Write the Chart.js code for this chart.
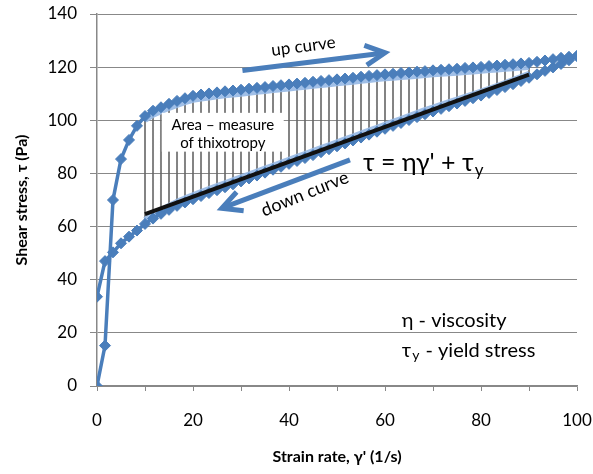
<!DOCTYPE html>
<html><head><meta charset="utf-8">
<script src="https://cdn.jsdelivr.net/npm/chart.js@4/dist/chart.umd.min.js"></script>
<style>html,body{margin:0;padding:0;background:#fff}</style>
</head><body>
<canvas id="c" width="593" height="474"></canvas>
<script>
// ---- data ----
const strainRate = [0,1.67,3.33,5,6.67,8.33,10,11.67,13.33,15,16.67,18.33,20,21.67,23.33,25,26.67,28.33,30,31.67,33.33,35,36.67,38.33,40,41.67,43.33,45,46.67,48.33,50,51.67,53.33,55,56.67,58.33,60,61.67,63.33,65,66.67,68.33,70,71.67,73.33,75,76.67,78.33,80,81.67,83.33,85,86.67,88.33,90,91.67,93.33,95,96.67,98.33,100];
const upCurve = [0,15.2,70.0,85.4,92.6,97.9,101.6,103.6,104.9,106.2,107.3,108.3,109.2,109.7,110.1,110.5,110.9,111.2,111.5,111.9,112.2,112.5,112.9,113.2,113.5,113.8,114.1,114.5,114.8,115.1,115.4,115.7,116.0,116.4,116.7,117.0,117.3,117.5,117.8,118.0,118.3,118.5,118.8,119.0,119.2,119.4,119.7,119.9,120.1,120.4,120.6,120.9,121.1,121.4,121.6,122.0,122.5,123.0,123.5,123.9,124.2];
const downCurve = [33.6,47.0,50.3,53.7,56.2,58.5,61.0,63.0,64.8,66.3,67.8,69.1,70.3,71.5,72.6,73.7,74.8,75.9,77.0,78.1,79.2,80.3,81.4,82.5,83.6,84.7,85.8,86.9,88.0,89.1,90.2,91.3,92.4,93.5,94.6,95.7,96.8,97.9,99.0,100.1,101.2,102.3,103.3,104.3,105.3,106.3,107.3,108.3,109.3,110.3,111.4,112.5,113.6,114.8,116.0,117.3,118.6,119.9,121.2,122.6,124.2];
const fitX = [10, 90];
const fitY = [64.7, 117.2];
const hatchRange = [10, 90];
const xTickStep = 10, xLabelStep = 20;
const yTickStep = 20;
const xTitle = "Strain rate, γ' (1/s)";
const yTitle = "Shear stress, τ (Pa)";

// ---- build datasets ----
const BLUE = '#4A7EBB';
const F = 'Lato, "Noto Sans", "DejaVu Sans", sans-serif';
const upPts = strainRate.map((x, i) => ({x, y: upCurve[i]}));
const downPts = strainRate.map((x, i) => ({x, y: downCurve[i]})).reverse();
const fitPts = fitX.map((x, i) => ({x, y: fitY[i]}));
const hatchPts = [];
strainRate.forEach((x, i) => {
  if (x < hatchRange[0] || x > hatchRange[1]) return;
  hatchPts.push({x, y: upCurve[i]}, {x, y: downCurve[i]}, {x, y: null});
});

const bandPlugin = {
  id: 'band',
  afterDatasetDraw(chart, args) {
    if (chart.data.datasets[args.index].label !== 'hatch') return;
    const xs = chart.scales.x, ys = chart.scales.y, c = chart.ctx;
    c.save();
    c.lineWidth = 6; c.strokeStyle = 'rgba(150,184,228,0.9)'; c.lineJoin = 'round';
    [[upCurve, 4], [downCurve, -4]].forEach(([arr, off]) => {
      c.beginPath(); let first = true;
      strainRate.forEach((x, i) => {
        if (x < hatchRange[0] || x > hatchRange[1]) return;
        const px = xs.getPixelForValue(x), py = ys.getPixelForValue(arr[i]) + off;
        if (first) c.moveTo(px, py); else c.lineTo(px, py);
        first = false;
      });
      c.stroke();
    });
    c.restore();
  }
};

function arrow(c, x1, y1, x2, y2) {
  const a = Math.atan2(y2 - y1, x2 - x1), L = 22, h = 27 * Math.PI / 180;
  c.beginPath(); c.moveTo(x1, y1); c.lineTo(x2 - 3 * Math.cos(a), y2 - 3 * Math.sin(a)); c.stroke();
  c.beginPath();
  c.moveTo(x2 - L * Math.cos(a - h), y2 - L * Math.sin(a - h));
  c.lineTo(x2, y2);
  c.lineTo(x2 - L * Math.cos(a + h), y2 - L * Math.sin(a + h));
  c.stroke();
}

const notesPlugin = {
  id: 'notes',
  afterDatasetsDraw(chart) {
    const xs = chart.scales.x, ys = chart.scales.y, c = chart.ctx;
    const X = v => xs.getPixelForValue(v), Y = v => ys.getPixelForValue(v);
    c.save();
    // white box with label
    const bx1 = X(13.5), bx2 = X(38.9), by1 = Y(102.8), by2 = Y(88.2);
    c.fillStyle = '#fff'; c.fillRect(bx1, by1, bx2 - bx1, by2 - by1);
    c.fillStyle = '#000'; c.textAlign = 'center'; c.textBaseline = 'middle';
    c.font = '15px ' + F;
    c.fillText('Area – measure', (bx1 + bx2) / 2, Y(98.1));
    c.fillText('of thixotropy', (bx1 + bx2) / 2, Y(91.3));
    // arrows
    c.strokeStyle = BLUE; c.lineWidth = 5; c.lineJoin = 'miter'; c.lineCap = 'butt';
    arrow(c, X(30.3), Y(118.7), X(60.0), Y(125.4));
    arrow(c, X(52.7), Y(85.1), X(26.0), Y(66.9));
    // rotated labels
    c.fillStyle = '#000';
    c.save(); c.translate(X(43.0), Y(127.8)); c.rotate(-7.5 * Math.PI / 180);
    c.font = '17px ' + F; c.fillText('up curve', 0, 0); c.restore();
    c.save(); c.translate(X(43.3), Y(72.3)); c.rotate(-22 * Math.PI / 180);
    c.font = '18px ' + F; c.fillText('down curve', 0, 0); c.restore();
    // equation
    c.textAlign = 'left';
    let ex = X(55.4), ey = Y(83.9);
    c.font = '25px ' + F;
    const eq = "τ = ηγ' + τ";
    c.fillText(eq, ex, ey);
    let w = c.measureText(eq).width;
    c.font = '17px ' + F; c.fillText('y', ex + w + 1, ey + 7);
    // notes
    const nx = X(63.5);
    c.font = '20px ' + F;
    c.fillText('η - viscosity', nx, Y(24.8));
    c.fillText('τ', nx, Y(13.5));
    w = c.measureText('τ').width;
    c.font = '14px ' + F; c.fillText('y', nx + w + 1, Y(13.5) + 5);
    const w2 = c.measureText('y').width;
    c.font = '20px ' + F; c.fillText(' - yield stress', nx + w + w2 + 2, Y(13.5));
    c.restore();
  }
};

new Chart(document.getElementById('c'), {
  type: 'scatter',
  data: { datasets: [
    {label: 'fit', data: fitPts, showLine: true, borderColor: '#111', borderWidth: 4, pointRadius: 0, order: 0},
    {label: 'up curve', data: upPts, showLine: true, borderColor: BLUE, borderWidth: 3.5,
     pointStyle: 'rectRot', pointRadius: 5.5, pointBackgroundColor: BLUE, pointBorderColor: BLUE, pointBorderWidth: 1, order: 1},
    {label: 'down curve', data: downPts, showLine: true, borderColor: BLUE, borderWidth: 3.5,
     pointStyle: 'rectRot', pointRadius: 5.5, pointBackgroundColor: BLUE, pointBorderColor: BLUE, pointBorderWidth: 1, order: 2},
    {label: 'hatch', data: hatchPts, showLine: true, spanGaps: false, borderColor: 'rgba(100,100,100,0.8)', borderWidth: 2, pointRadius: 0, order: 3}
  ]},
  options: {
    responsive: false, animation: false, devicePixelRatio: 1,
    layout: {padding: {top: 14, right: 16, left: 0, bottom: 0}},
    plugins: {legend: {display: false}, tooltip: {enabled: false}},
    scales: {
      x: {type: 'linear', min: 0, max: 100,
        ticks: {stepSize: xTickStep, autoSkip: false, maxRotation: 0, padding: 19, color: '#000', font: {family: F, size: 17},
          callback: v => (v % xLabelStep === 0 ? String(v) : '')},
        grid: {drawOnChartArea: false, drawTicks: true, tickLength: 5, color: '#888', lineWidth: 1},
        border: {color: '#888', width: 1.5},
        title: {display: true, text: xTitle, color: '#000', font: {family: F, size: 16, weight: 'bold'}, padding: {top: 0, bottom: 8}},
        afterFit: s => { s.height = 88; s.paddingLeft = 0; s.paddingRight = 0; }
      },
      y: {min: 0, max: 140,
        ticks: {stepSize: yTickStep, padding: 13, color: '#000', font: {family: F, size: 17}},
        grid: {color: '#888', lineWidth: 1, tickLength: 7},
        border: {color: '#888', width: 1.5},
        title: {display: true, text: yTitle, color: '#000', font: {family: F, size: 16, weight: 'bold'}, padding: {top: 12, bottom: 0}},
        afterFit: s => { s.width = 97; s.paddingTop = 0; s.paddingBottom = 0; }
      }
    }
  },
  plugins: [bandPlugin, notesPlugin]
});
</script>
</body></html>
